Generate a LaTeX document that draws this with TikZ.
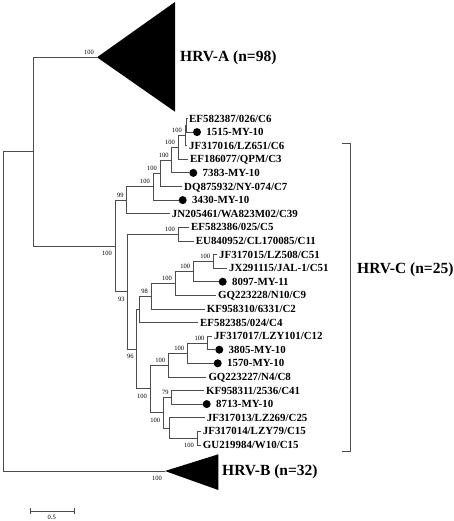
\documentclass[tikz,border=0pt]{standalone}
\usepackage{fontspec}
\setmainfont{Liberation Serif}
\usetikzlibrary{positioning}

\begin{document}
\begin{tikzpicture}[x=1pt,y=-1pt,
  br/.style = {draw=black!70, line width=0.8pt},
  leaf/.style = {anchor=west, inner sep=2pt, text height=7.2pt, text depth=0pt, font=\bfseries\fontsize{10.9}{12}\selectfont},
  blob/.style = {circle, fill=black, minimum size=8pt, inner sep=0pt},
  bu/.style = {anchor=south east, inner sep=1pt, xshift=-2pt, yshift=1.5pt, text height=4.3pt, text depth=0pt, font=\fontsize{6.5}{7}\selectfont},
  bd/.style = {anchor=north east, inner sep=1pt, xshift=-2pt, yshift=-4pt, text height=4.3pt, text depth=0pt, font=\fontsize{6.5}{7}\selectfont},
  clade/.style = {anchor=west, inner sep=0pt, text height=10.3pt, text depth=0pt, font=\bfseries\fontsize{15.5}{17}\selectfont}]
  \useasboundingbox (0,0) rectangle (454,521);
  % inner nodes
  \coordinate (root) at (3,311.3);
  \coordinate (nAC) at (33,151.6);
  \coordinate (nA) at (97,57.3);
  \coordinate (nB) at (165,471);
  \coordinate (nC) at (115,245.9);
  \coordinate (n7) at (126.7,200.2);
  \coordinate (n6) at (153,186.7);
  \coordinate (n5) at (160,173.3);
  \coordinate (n4) at (171.7,160.15);
  \coordinate (n3) at (178,147.4);
  \coordinate (n2) at (185,135.5);
  \coordinate (n1) at (186.5,125.3);
  \coordinate (n93) at (127.7,291.6);
  \coordinate (nP) at (178,234.1);
  \coordinate (n96) at (136.7,349);
  \coordinate (nQ) at (139.3,309.3);
  \coordinate (n98) at (151,296.2);
  \coordinate (nS) at (175,283.4);
  \coordinate (nT) at (193.3,271.5);
  \coordinate (nU) at (213.3,261.3);
  \coordinate (nR) at (150,388.8);
  \coordinate (nV) at (168.3,365);
  \coordinate (nX) at (187.3,353.1);
  \coordinate (nY) at (207.5,342.9);
  \coordinate (nW) at (163.3,412.6);
  \coordinate (nZ) at (171.7,397.3);
  \coordinate (nAA) at (169,427.9);
  \coordinate (nBB) at (197,438.1);
  % leaves
  \node[leaf] (t1) at (187,118.5) {EF582387/026/C6};
  \node[blob] (d2) at (197,132.1) {};
  \node[leaf] (t2) [right=3pt of d2] {1515-MY-10};
  \node[leaf] (t3) at (187,145.7) {JF317016/LZ651/C6};
  \node[leaf] (t4) at (188,159.3) {EF186077/QPM/C3};
  \node[blob] (d5) at (193.3,172.9) {};
  \node[leaf] (t5) [right=3pt of d5] {7383-MY-10};
  \node[leaf] (t6) at (182,186.5) {DQ875932/NY-074/C7};
  \node[blob] (d7) at (182.7,200.1) {};
  \node[leaf] (t7) [right=3pt of d7] {3430-MY-10};
  \node[leaf] (t8) at (169.7,213.7) {JN205461/WA823M02/C39};
  \node[leaf] (t9) at (189,227.3) {EF582386/025/C5};
  \node[leaf] (t10) at (193.7,240.9) {EU840952/CL170085/C11};
  \node[leaf] (t11) at (217,254.5) {JF317015/LZ508/C51};
  \node[leaf] (t12) at (227,268.1) {JX291115/JAL-1/C51};
  \node[blob] (d13) at (222.7,281.7) {};
  \node[leaf] (t13) [right=3pt of d13] {8097-MY-11};
  \node[leaf] (t14) at (216,295.3) {GQ223228/N10/C9};
  \node[leaf] (t15) at (204.7,308.9) {KF958310/6331/C2};
  \node[leaf] (t16) at (198,322.5) {EF582385/024/C4};
  \node[leaf] (t17) at (212,336.1) {JF317017/LZY101/C12};
  \node[blob] (d18) at (219.3,349.7) {};
  \node[leaf] (t18) [right=3pt of d18] {3805-MY-10};
  \node[blob] (d19) at (217.7,363.3) {};
  \node[leaf] (t19) [right=3pt of d19] {1570-MY-10};
  \node[leaf] (t20) at (206.3,376.9) {GQ223227/N4/C8};
  \node[leaf] (t21) at (204,390.5) {KF958311/2536/C41};
  \node[blob] (d22) at (206.7,404.1) {};
  \node[leaf] (t22) [right=3pt of d22] {8713-MY-10};
  \node[leaf] (t23) at (204.7,417.7) {JF317013/LZ269/C25};
  \node[leaf] (t24) at (200.7,431.3) {JF317014/LZY79/C15};
  \node[leaf] (t25) at (200.7,444.9) {GU219984/W10/C15};
  % branches
  \draw[br] (root) |- (nAC); \draw[br] (root) |- (nB);
  \draw[br] (nAC) |- (nA); \draw[br] (nAC) |- (nC);
  \draw[br] (nC) |- (n7); \draw[br] (nC) |- (n93);
  \draw[br] (n7) |- (n6); \draw[br] (n7) |- (t8);
  \draw[br] (n6) |- (n5); \draw[br] (n6) |- (d7);
  \draw[br] (n5) |- (n4); \draw[br] (n5) |- (t6);
  \draw[br] (n4) |- (n3); \draw[br] (n4) |- (d5);
  \draw[br] (n3) |- (n2); \draw[br] (n3) |- (t4);
  \draw[br] (n2) |- (n1); \draw[br] (n2) |- (t3);
  \draw[br] (n1) |- (t1); \draw[br] (n1) |- (d2);
  \draw[br] (n93) |- (nP); \draw[br] (n93) |- (n96);
  \draw[br] (nP) |- (t9); \draw[br] (nP) |- (t10);
  \draw[br] (n96) |- (nQ); \draw[br] (n96) |- (nR);
  \draw[br] (nQ) |- (n98); \draw[br] (nQ) |- (t16);
  \draw[br] (n98) |- (nS); \draw[br] (n98) |- (t15);
  \draw[br] (nS) |- (nT); \draw[br] (nS) |- (t14);
  \draw[br] (nT) |- (nU); \draw[br] (nT) |- (d13);
  \draw[br] (nU) |- (t11); \draw[br] (nU) |- (t12);
  \draw[br] (nR) |- (nV); \draw[br] (nR) |- (nW);
  \draw[br] (nV) |- (nX); \draw[br] (nV) |- (t20);
  \draw[br] (nX) |- (nY); \draw[br] (nX) |- (d19);
  \draw[br] (nY) |- (t17); \draw[br] (nY) |- (d18);
  \draw[br] (nW) |- (nZ); \draw[br] (nW) |- (nAA);
  \draw[br] (nZ) |- (t21); \draw[br] (nZ) |- (d22);
  \draw[br] (nAA) |- (t23); \draw[br] (nAA) |- (nBB);
  \draw[br] (nBB) |- (t24); \draw[br] (nBB) |- (t25);
  % collapsed clades
  \coordinate (aT) at (175,2); \coordinate (aB) at (175,111.7);
  \coordinate (bT) at (218.3,454.3); \coordinate (bB) at (218.3,490);
  \fill (nA) -- (aT) -- (aB) -- cycle;
  \fill (nB) -- (bT) -- (bB) -- cycle;
  \node[clade] (lA) at (180,56.5) {HRV-A (n=98)};
  \node[clade] (lB) at (222,470.5) {HRV-B (n=32)};
  % HRV-C bracket
  \coordinate (c1) at (342,143); \coordinate (c2) at (350,143);
  \coordinate (c3) at (350,451.7); \coordinate (c4) at (342,451.7);
  \draw[br] (c1) -- (c2) -- (c3) -- (c4);
  \node[clade] (lC) at (357,268) {HRV-C (n=25)};
  % bootstrap values
  \node[bu] (bA) at (nA) {100};
  \node[bd] (bB) at (nB) {100};
  \node[bd] (bC) at (nC) {100};
  \node[bu] (b7) at (n7) {99};
  \node[bu] (b6) at (n6) {100};
  \node[bu] (b5) at (n5) {100};
  \node[bu] (b4) at (n4) {100};
  \node[bu] (b3) at (n3) {100};
  \node[bu] (b2) at (n2) {100};
  \node[bd] (b93) at (n93) {93};
  \node[bu] (bP) at (nP) {100};
  \node[bd] (b96) at (n96) {96};
  \node[bu] (b98) at (n98) {98};
  \node[bu] (bS) at (nS) {100};
  \node[bu] (bT) at (nT) {100};
  \node[bu] (bU) at (nU) {100};
  \node[bd] (bR) at (nR) {100};
  \node[bu] (bV) at (nV) {100};
  \node[bu] (bX) at (nX) {100};
  \node[bu] (bY) at (nY) {100};
  \node[bd] (bW) at (nW) {100};
  \node[bu] (bZ) at (nZ) {79};
  \node[bd] (bBB) at (nBB) {100};
  % scale bar
  \coordinate (s1) at (30,511); \coordinate (s2) at (74,511);
  \draw[br] (s1) -- (s2);
  \draw[br] ([yshift=3pt]s1) -- ([yshift=-3pt]s1);
  \draw[br] ([yshift=3pt]s2) -- ([yshift=-3pt]s2);
  \node[inner sep=0pt, font=\fontsize{6.5}{7}\selectfont] (s0) at (51.8,517.3) {0.5};
\end{tikzpicture}
\end{document}
